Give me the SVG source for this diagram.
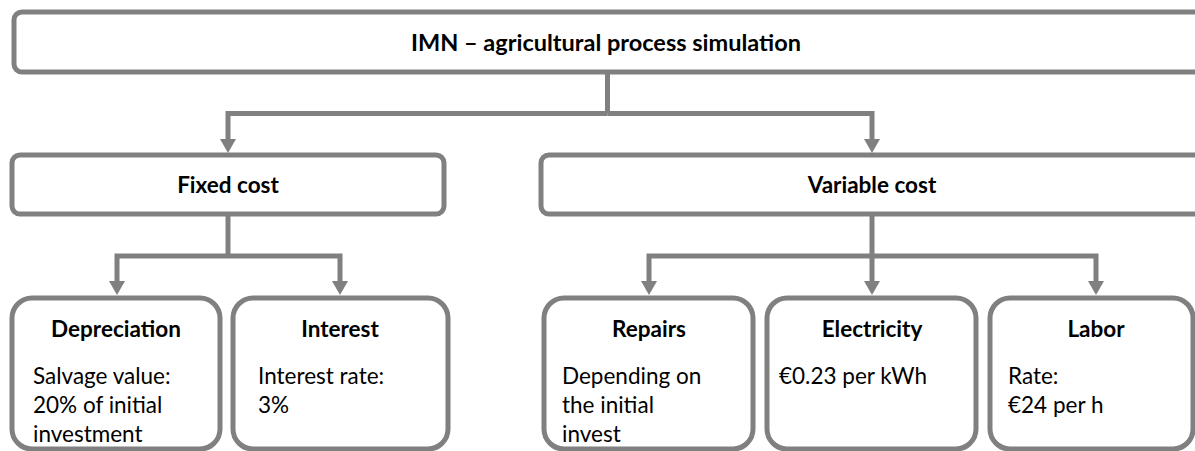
<svg xmlns="http://www.w3.org/2000/svg" width="1195" height="451" viewBox="0 0 1195 451">
<style>
.box{fill:#fff;stroke:#808080;stroke-width:5}
.con{fill:none;stroke:#808080;stroke-width:5;stroke-linejoin:miter}
.t{font-family:Lato,"Liberation Sans",sans-serif;font-weight:bold;font-size:22.5px;fill:#000;text-anchor:middle}
.r{font-size:23.5px}
.b{font-family:Lato,"Liberation Sans",sans-serif;font-size:22.5px;fill:#000}
</style>
<defs>
<marker id="arr" markerUnits="userSpaceOnUse" viewBox="0 -8 14 16" markerWidth="14" markerHeight="16" refX="4" refY="0" orient="auto">
<path d="M0,-8 L14,0 L0,8 z" fill="#808080"/>
</marker>
</defs>
<g id="connectors">
<path class="con" d="M607.5,74 V113.5"/>
<path class="con" d="M607.5,113.5 H228 V143" marker-end="url(#arr)"/>
<path class="con" d="M607.5,113.5 H872 V143" marker-end="url(#arr)"/>
<path class="con" d="M228,214 V256"/>
<path class="con" d="M228,256 H117 V285" marker-end="url(#arr)"/>
<path class="con" d="M228,256 H340 V285" marker-end="url(#arr)"/>
<path class="con" d="M872,214 V285" marker-end="url(#arr)"/>
<path class="con" d="M872,256 H649 V285" marker-end="url(#arr)"/>
<path class="con" d="M872,256 H1096 V285" marker-end="url(#arr)"/>
</g>
<g id="root">
<rect class="box" x="14" y="12" width="1200" height="60" rx="8"/>
<text class="t r" x="606" y="51">IMN – agricultural process simulation</text>
</g>
<g id="fixed">
<rect class="box" x="12" y="155" width="432" height="59" rx="8"/>
<text class="t" x="228" y="193">Fixed cost</text>
</g>
<g id="variable">
<rect class="box" x="541" y="155" width="670" height="59" rx="8"/>
<text class="t" x="872" y="193">Variable cost</text>
</g>
<g id="depreciation">
<rect class="box" x="12" y="298" width="208" height="151" rx="20"/>
<text class="t" x="116" y="337">Depreciation</text>
<text class="b" x="33" y="384">Salvage value:</text>
<text class="b" x="33" y="413">20% of initial</text>
<text class="b" x="33" y="442">investment</text>
</g>
<g id="interest">
<rect class="box" x="233" y="298" width="215" height="151" rx="20"/>
<text class="t" x="340" y="337">Interest</text>
<text class="b" x="258" y="384">Interest rate:</text>
<text class="b" x="258" y="413">3%</text>
</g>
<g id="repairs">
<rect class="box" x="544" y="298" width="209" height="151" rx="20"/>
<text class="t" x="649" y="337">Repairs</text>
<text class="b" x="562" y="384">Depending on</text>
<text class="b" x="562" y="413">the initial</text>
<text class="b" x="562" y="442">invest</text>
</g>
<g id="electricity">
<rect class="box" x="767" y="298" width="209" height="151" rx="20"/>
<text class="t" x="872" y="337">Electricity</text>
<text class="b" x="779" y="384">€0.23 per kWh</text>
</g>
<g id="labor">
<rect class="box" x="990" y="298" width="203" height="151" rx="20"/>
<text class="t" x="1096" y="337">Labor</text>
<text class="b" x="1008" y="384">Rate:</text>
<text class="b" x="1008" y="413">€24 per h</text>
</g>
</svg>
